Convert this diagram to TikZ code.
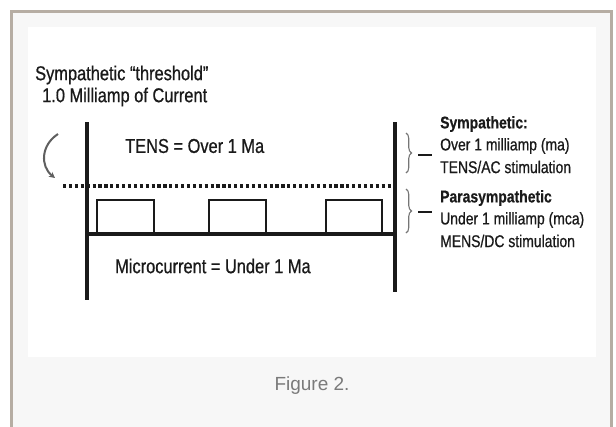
\documentclass[tikz,border=0pt]{standalone}
\usepackage{fontspec}
\setmainfont{Liberation Sans}
\newfontfamily\cnd[FakeStretch=0.82,FakeBold=0.7]{Liberation Sans}
\newfontfamily\cndb[FakeStretch=0.82,FakeBold=0.5]{Liberation Sans Bold}
\usetikzlibrary{decorations.pathreplacing,arrows.meta}
\definecolor{frame}{HTML}{B6ADA3}
\definecolor{panel}{HTML}{F7F7F7}
\definecolor{ink}{HTML}{1A1A1A}
\definecolor{cap}{HTML}{7A7A7A}
\tikzset{
  big/.style={inner sep=0pt,anchor=west,text=ink,font=\cnd\fontsize{20}{22}\selectfont},
  side/.style={inner sep=0pt,anchor=west,text=ink,font=\cnd\fontsize{17}{19}\selectfont},
  sidebold/.style={side,font=\cndb\fontsize{17}{19}\selectfont},
  axis/.style={line width=3.4pt,ink},
  pulse/.style={line width=2.4pt,ink},
  bracestyle/.style={decorate,decoration={brace,amplitude=5.5pt},line width=1.1pt,ink!60},
}
\begin{document}
\begin{tikzpicture}[x=1pt,y=-1pt]
\useasboundingbox (0,0) rectangle (616,426);
\clip (0,0) rectangle (616,426);
\fill[white] (0,0) rectangle (616,426);
\draw[frame,line width=3pt,fill=panel] (11.5,11.5) rectangle (611.5,440);
\fill[white] (28,27) rectangle (596,357);
% axes
\coordinate (lt) at (87,122); \coordinate (lb) at (87,300);
\coordinate (rt) at (395,122); \coordinate (rb) at (395,292);
\draw[axis] (lt) -- (lb);
\draw[axis] (rt) -- (rb);
\coordinate (ds) at (63,186); \coordinate (de) at (395,186);
\draw[line width=3.4pt,ink,dash pattern=on 3.2pt off 2.7pt] (ds) -- (de);
\coordinate (bs) at (87,234); \coordinate (be) at (395,234);
\draw[axis] (bs) -- (be);
\draw[pulse] (97,234) -- (97,200) -- (154,200) -- (154,234);
\draw[pulse] (209,234) -- (209,200) -- (266,200) -- (266,234);
\draw[pulse] (326,234) -- (326,200) -- (382,200) -- (382,234);
% curved arrow
\coordinate (as) at (58,134); \coordinate (ae) at (55,178);
\draw[line width=2pt,ink!70,-{Stealth[length=6pt,width=6pt]}] (as) .. controls (41,145) and (40,166) .. (ae);
% texts
\node[big] (t1) at (35,75) {Sympathetic “threshold”};
\node[big] (t2) at (42,97) {1.0 Milliamp of Current};
\node[big] (tens) at (125,146) {TENS = Over 1 Ma};
\node[big] (micro) at (115,266) {Microcurrent = Under 1 Ma};
\node[sidebold] (s1) at (440,124) {Sympathetic:};
\node[side] (s2) at (440,146) {Over 1 milliamp (ma)};
\node[side] (s3) at (440,167) {TENS/AC stimulation};
\node[sidebold] (p1) at (440,198) {Parasympathetic};
\node[side] (p2) at (440,220) {Under 1 milliamp (mca)};
\node[side] (p3) at (440,241) {MENS/DC stimulation};
% braces
\draw[bracestyle] (406,133) -- (406,173);
\draw[bracestyle] (406,189) -- (406,233);
\coordinate (d1a) at (418,155); \coordinate (d1b) at (432,155);
\coordinate (d2a) at (418,212); \coordinate (d2b) at (432,212);
\draw[line width=1.8pt,ink] (d1a) -- (d1b);
\draw[line width=1.8pt,ink] (d2a) -- (d2b);
% caption
\node[inner sep=0pt,text=cap,font=\fontsize{19}{22}\selectfont] (fig) at (312,386) {Figure 2.};
\end{tikzpicture}
\end{document}
